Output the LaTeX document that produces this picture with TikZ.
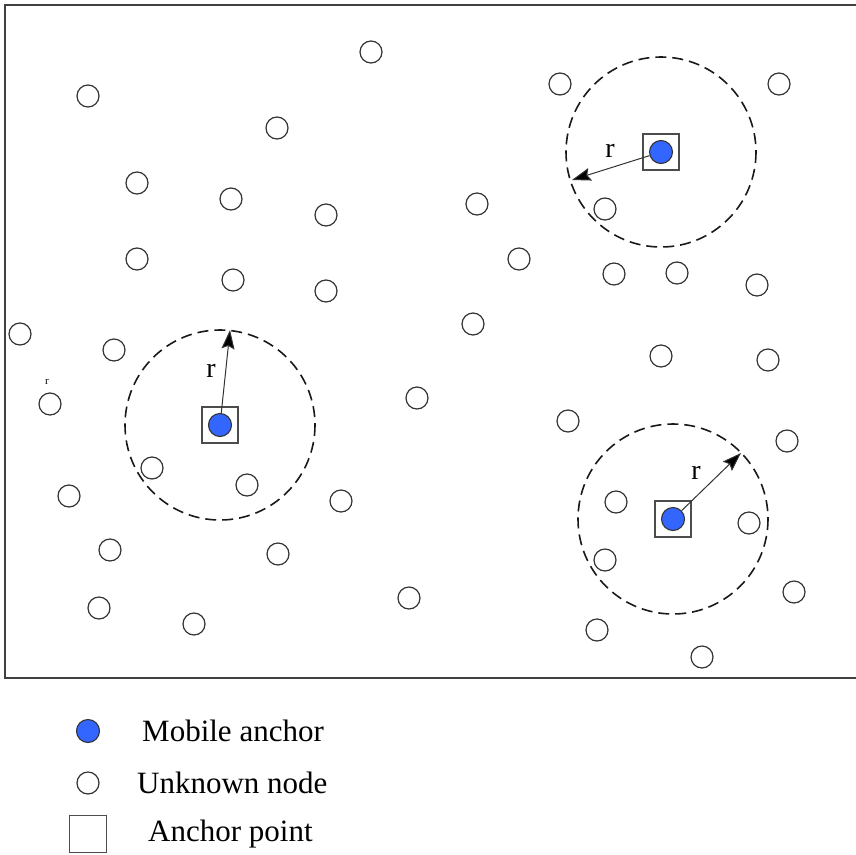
\documentclass[tikz,border=0pt]{standalone}
\usepackage{fontspec}
\setmainfont{Liberation Serif}
\usetikzlibrary{arrows.meta, positioning}
\definecolor{anchorblue}{RGB}{51,102,255}

\begin{document}
\begin{tikzpicture}[x=1pt, y=-1pt,
  unknown/.style={circle,draw=black!80,line width=1.2pt,minimum size=22pt,inner sep=0pt},
  mobile/.style={circle,draw=black!80,fill=anchorblue,line width=1.1pt,minimum size=23pt,inner sep=0pt},
  anchorpt/.style={rectangle,draw=black!70,line width=1.4pt,minimum size=36pt,inner sep=0pt},
  rangecircle/.style={draw=black!90,dash pattern=on 11pt off 6pt,line width=1.6pt},
  radiusarrow/.style={draw=black!80,line width=1pt,-{Stealth[length=19pt,width=13pt,inset=3pt,fill=black]}},
  rlabel/.style={font=\fontsize{28}{30}\selectfont,inner sep=0pt},
  legendtext/.style={font=\fontsize{31}{34}\selectfont,anchor=west,inner sep=0pt}]

  \useasboundingbox (0,0) rectangle (856,854);
  \draw[line width=1.5pt, black!75] (5,5) rectangle (890,678);

  % unknown nodes
  \foreach \x/\y [count=\i] in {88/96, 371/52, 277/128, 137/183, 231/199, 326/215,
      137/259, 233/280, 326/291, 20/334, 114/350, 50/404, 152/468, 247/485,
      341/501, 69/496, 110/550, 278/554, 99/608, 194/624, 417/398, 409/598,
      473/324, 477/204, 519/259, 560/84, 779/84, 605/209, 614/274, 677/273,
      757/285, 661/356, 768/360, 568/421, 787/441, 616/502, 749/523, 605/560,
      794/592, 597/630, 702/657}
    \node[unknown] (u\i) at (\x,\y) {};

  \node[font=\fontsize{11}{12}\selectfont, inner sep=0pt] (tinyr) at (47,382) {r};

  % anchor points with ranges
  \node[anchorpt] (p1) at (661,152) {};
  \node[anchorpt] (p2) at (220,425) {};
  \node[anchorpt] (p3) at (673,519) {};

  \draw[rangecircle] (p1.center) circle[radius=95];
  \draw[rangecircle] (p2.center) circle[radius=95];
  \draw[rangecircle] (p3.center) circle[radius=95];

  \node[mobile] (m1) at (p1) {};
  \node[mobile] (m2) at (p2) {};
  \node[mobile] (m3) at (p3) {};

  \coordinate (e1) at (572,180);
  \coordinate (e2) at (230,330);
  \coordinate (e3) at (741,453);

  \draw[radiusarrow] (m1) -- (e1);
  \draw[radiusarrow] (m2) -- (e2);
  \draw[radiusarrow] (m3) -- (e3);

  \node[rlabel] (r1) at (610,151) {r};
  \node[rlabel] (r2) at (211,371) {r};
  \node[rlabel] (r3) at (696,473) {r};

  % legend
  \node[mobile] (lm) at (88,731) {};
  \node[unknown] (lu) at (88,783) {};
  \node[anchorpt, minimum size=37pt] (lp) at (88,834) {};
  \node[legendtext] (tm) at (142,731) {Mobile anchor};
  \node[legendtext] (tu) at (137,783) {Unknown node};
  \node[legendtext] (tp) at (148,834) {Anchor point};
\end{tikzpicture}
\end{document}
